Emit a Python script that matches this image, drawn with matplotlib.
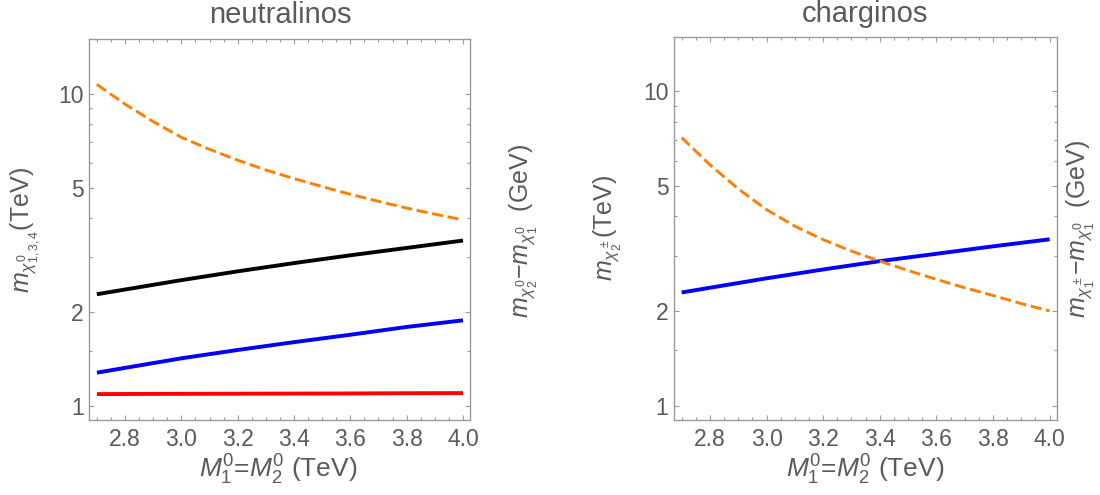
import numpy as np
import matplotlib
matplotlib.use('Agg')
import matplotlib.pyplot as plt
from matplotlib.ticker import FixedLocator, NullFormatter

plt.rcParams['font.family'] = ['Liberation Sans', 'DejaVu Sans']
plt.rcParams['mathtext.fontset'] = 'custom'
plt.rcParams['mathtext.rm'] = 'Liberation Sans'
plt.rcParams['mathtext.it'] = 'Liberation Sans:italic'
plt.rcParams['mathtext.bf'] = 'Liberation Sans:bold'

TEXT = '#5a5a5a'
FRAME = '#9a9a9a'
W, H = 1100, 495

# M1 = M2 (TeV)
m_grid = [2.7, 3.0, 3.2, 3.4, 3.6, 3.8, 4.0]
m_fine = [2.7, 2.8, 2.9, 3.0, 3.1, 3.2, 3.3, 3.4, 3.5, 3.6, 3.7, 3.8, 3.9, 4.0]

# neutralinos (TeV)
neu_black = [2.28, 2.53, 2.70, 2.87, 3.04, 3.21, 3.39]
neu_blue = [1.277, 1.42, 1.51, 1.60, 1.69, 1.79, 1.88]
neu_red = [1.090, 1.092, 1.093, 1.094, 1.095, 1.097, 1.098]
# mass splitting chi2^0 - chi1^0 (GeV)
neu_split = [10.74, 9.29, 8.16, 7.27, 6.65, 6.14, 5.71, 5.36, 5.05, 4.77, 4.53, 4.31, 4.12, 3.95]

# charginos (TeV)
cha_blue = [2.29, 2.54, 2.71, 2.88, 3.04, 3.21, 3.38]
# mass splitting chi1^+- - chi1^0 (GeV)
cha_split = [7.12, 5.83, 4.89, 4.20, 3.72, 3.37, 3.10, 2.88, 2.69, 2.52, 2.37, 2.24, 2.11, 2.00]

xticks = [2.8, 3.0, 3.2, 3.4, 3.6, 3.8, 4.0]
yticks = [1, 2, 5, 10]
yminor = [1.5, 3, 4, 6, 7, 8, 9]


def style_axes(ax, ytop):
    ax.set_yscale('log')
    ax.set_xlim(2.673, 4.026)
    ax.set_ylim(0.9, ytop)
    ax.xaxis.set_major_locator(FixedLocator(xticks))
    ax.xaxis.set_minor_locator(FixedLocator(np.arange(2.7, 4.03, 0.05)))
    ax.set_xticklabels(['%.1f' % t for t in xticks])
    ax.yaxis.set_major_locator(FixedLocator(yticks))
    ax.yaxis.set_minor_locator(FixedLocator(yminor))
    ax.yaxis.set_minor_formatter(NullFormatter())
    ax.set_yticklabels([str(t) for t in yticks])
    ax.tick_params(which='both', direction='in', top=True, right=True,
                   color=FRAME, labelcolor=TEXT, labelsize=16.5, width=0.8)
    ax.tick_params(which='major', length=3.5)
    ax.tick_params(axis='x', which='major', pad=5.5)
    ax.tick_params(axis='y', which='major', pad=4)
    ax.tick_params(which='minor', length=2)
    for s in ax.spines.values():
        s.set_color(FRAME)
        s.set_linewidth(1.0)


def label(x, y, txt, rot=0, size=18, va='center'):
    fig.text(x / W, 1 - y / H, txt, rotation=rot, ha='center', va=va,
             fontsize=size, color=TEXT)


fig = plt.figure(figsize=(11, 4.95), dpi=100)
ax1 = fig.add_axes([89.3 / W, 1 - 420 / H, 381 / W, 380.7 / H])
ax2 = fig.add_axes([674 / W, 1 - 420 / H, 383 / W, 383.3 / H])

ax1.plot(m_grid, neu_red, color='#ff0000', lw=2.8, solid_capstyle='butt')
ax1.plot(m_grid, neu_blue, color='#0000ff', lw=2.8, solid_capstyle='butt')
ax1.plot(m_grid, neu_black, color='black', lw=2.8, solid_capstyle='butt')
l, = ax1.plot(m_fine, neu_split, color='#ff8000', lw=2.1)
l.set_dashes((3.8, 1.6))
style_axes(ax1, 15.0)

ax2.plot(m_grid, cha_blue, color='#0000ff', lw=2.8, solid_capstyle='butt')
l, = ax2.plot(m_fine, cha_split, color='#ff8000', lw=2.1)
l.set_dashes((3.8, 1.6))
style_axes(ax2, 14.9)

label(280, 23.3, 'neutralinos', size=21, va='baseline')
label(865, 21.7, 'charginos', size=21, va='baseline')
label(278, 478, r'$M^0_1$=$M^0_2$ (TeV)', size=19, va='baseline')
label(865, 478, r'$M^0_1$=$M^0_2$ (TeV)', size=19, va='baseline')
label(25, 230, r'$m_{\chi^0_{1,3,4}}$(TeV)', rot=90)
label(524, 231, r'$m_{\chi^0_2}$$-$$m_{\chi^0_1}$  (GeV)', rot=90)
label(608, 228, r'$m_{\chi^\pm_2}$(TeV)', rot=90)
label(1081, 229, r'$m_{\chi^\pm_1}$$-$$m_{\chi^0_1}$  (GeV)', rot=90)

fig.savefig('out.png', dpi=100)
